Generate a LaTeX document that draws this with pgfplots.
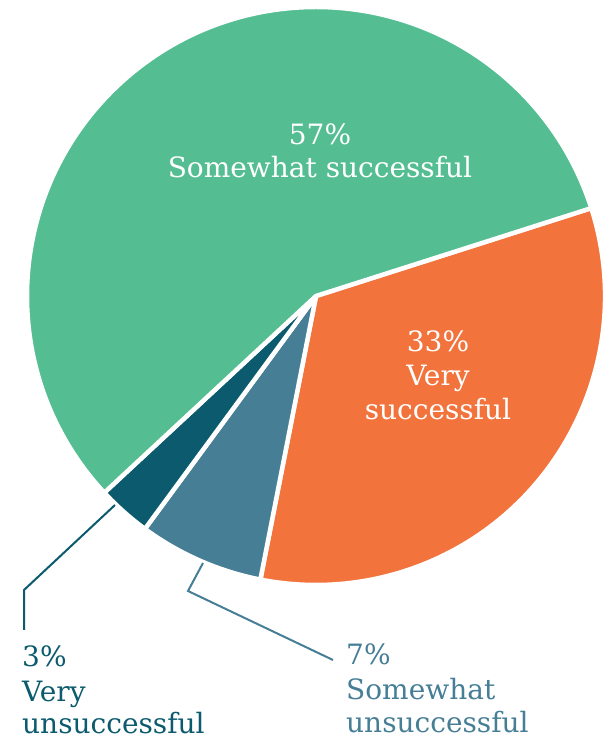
\documentclass[border=0pt]{standalone}
\usepackage{fontspec}
\setmainfont{DejaVu Serif}
\usepackage{pgfplots}
\pgfplotsset{compat=1.18}

\definecolor{cgreen}{RGB}{84,190,146}
\definecolor{corange}{RGB}{242,115,60}
\definecolor{cblue}{RGB}{70,126,150}
\definecolor{cdark}{RGB}{11,90,109}

% shares in percent, clockwise from the green/orange boundary
\def\pVery{33}
\def\pSomeUn{7}
\def\pVeryUn{3}
\def\pSome{57}
\def\startang{17.7}

\pgfmathsetmacro\aA{\startang}
\pgfmathsetmacro\aB{\aA-3.6*\pVery}
\pgfmathsetmacro\aC{\aB-3.6*\pSomeUn}
\pgfmathsetmacro\aD{\aC-3.6*\pVeryUn}
\pgfmathsetmacro\aE{\aD-3.6*\pSome}
\def\cx{316}\def\cy{445}\def\rr{289}
\newcommand\slice[3]{%
  \fill[#1, draw=white, line width=4.5pt, line join=round]
    (axis cs:\cx,\cy) -- ++(#2:\rr pt)
    arc[start angle=#2, end angle=#3, radius=\rr pt] -- cycle;}
\newcommand\lab[4]{% x, y (pixels from top), anchor, text
  \node[anchor=#3, inner sep=0pt, font=\fontsize{28}{34}\selectfont]
    at (axis cs:#1,741-#2) {#4};}

\begin{document}
\begin{tikzpicture}
\begin{axis}[
  scale only axis,
  width=612pt, height=741pt,
  xmin=0, xmax=612, ymin=0, ymax=741,
  hide axis, clip=false
]
\coordinate (bl) at (axis cs:0,0);
\coordinate (tr) at (axis cs:612,741);
\slice{corange}{\aA}{\aB}
\slice{cblue}{\aB}{\aC}
\slice{cdark}{\aC}{\aD}
\slice{cgreen}{\aD}{\aE}

% leader lines
\draw[cdark, line width=2pt] (axis cs:115,741-505) -- (axis cs:24,741-590) -- (axis cs:24,741-630);
\draw[cblue, line width=2pt] (axis cs:203,741-563) -- (axis cs:188,741-591) -- (axis cs:333,741-660);

% labels inside
\begin{scope}[white]
\lab{320}{145}{base}{57\%}
\lab{320}{178}{base}{Somewhat successful}
\lab{438}{352}{base}{33\%}
\lab{438}{386}{base}{Very}
\lab{438}{420}{base}{successful}
\end{scope}
% labels outside
\begin{scope}[cdark]
\lab{22}{667}{base west}{3\%}
\lab{22}{702}{base west}{Very}
\lab{22}{734}{base west}{unsuccessful}
\end{scope}
\begin{scope}[cblue]
\lab{346}{665}{base west}{7\%}
\lab{346}{700}{base west}{Somewhat}
\lab{346}{732}{base west}{unsuccessful}
\end{scope}
\end{axis}
\pgfresetboundingbox
\path (bl) rectangle (tr);
\end{tikzpicture}
\end{document}
